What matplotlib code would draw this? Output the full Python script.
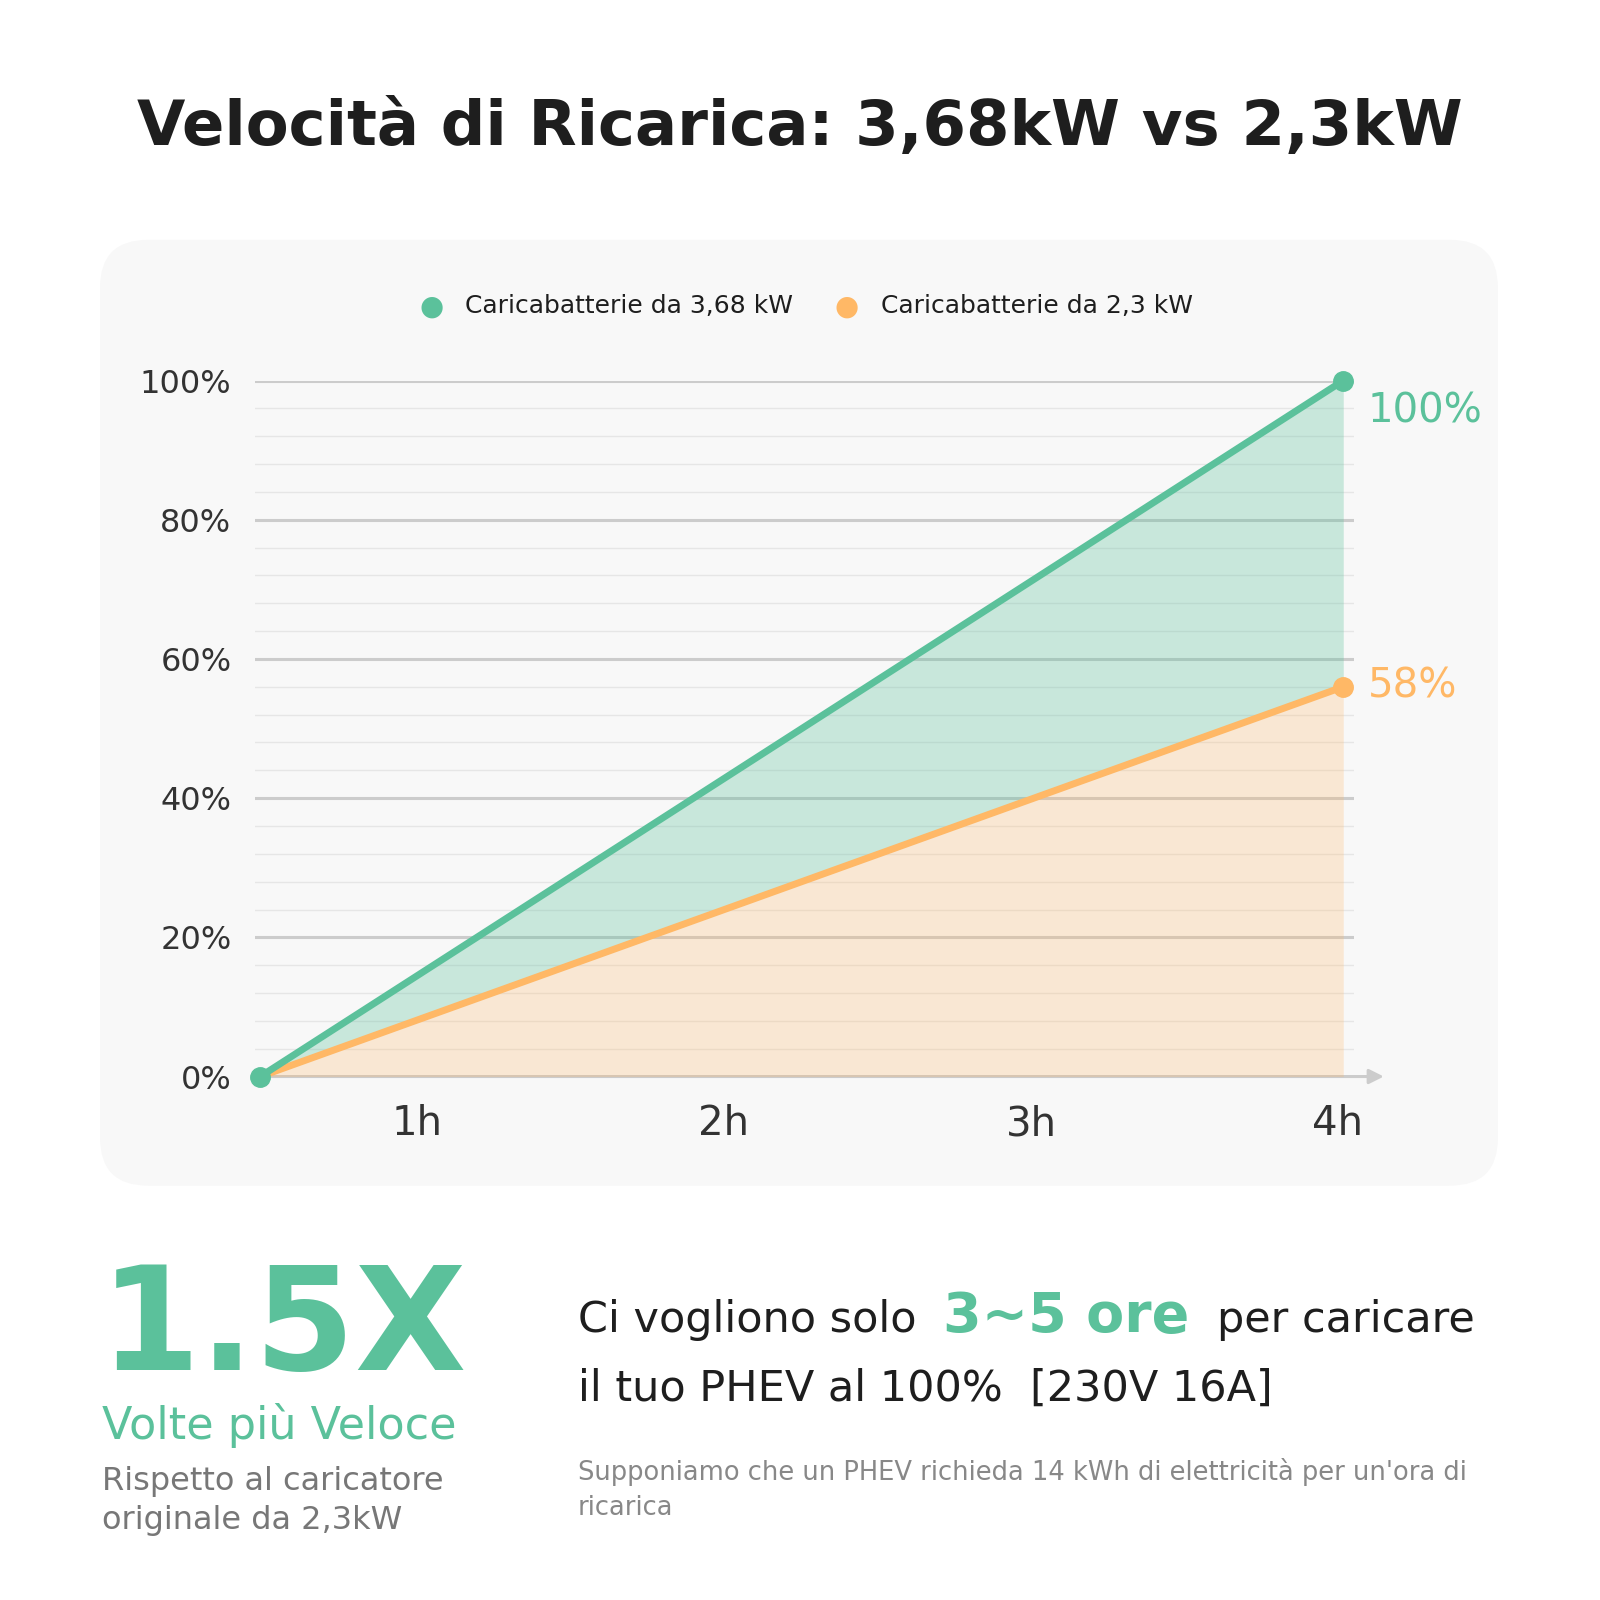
import matplotlib

matplotlib.use("Agg")

import matplotlib.pyplot as plt
from matplotlib.patches import FancyBboxPatch

plt.rcParams["font.family"] = ["DejaVu Sans"]

HOURS = [0, 4]
FAST_CHARGE = [0, 100]
SLOW_CHARGE = [0, 56]
FAST_LABEL = "100%"
SLOW_LABEL = "58%"
TICK_HOURS = [0.58, 1.71, 2.85, 3.98]
TICK_LABELS = ["1h", "2h", "3h", "4h"]
Y_TICKS = [0, 20, 40, 60, 80, 100]

GREEN = "#5bc19b"
ORANGE = "#ffb866"
DARK = "#1e1e1e"
W = 1568.0


def fx(px):
    return px / W


def fy(py):
    return 1 - py / W


fig = plt.figure(figsize=(16, 16), dpi=100)
fig.patch.set_facecolor("white")

panel = FancyBboxPatch((fx(98), fy(1162)), fx(1468) - fx(98), fy(235) - fy(1162),
                       boxstyle="round,pad=0,rounding_size=0.03",
                       transform=fig.transFigure, facecolor="#f8f8f8",
                       edgecolor="none", zorder=-5)
fig.patches.append(panel)

fig.text(0.5, fy(125), "Velocità di Ricarica: 3,68kW vs 2,3kW", ha="center",
         va="center", fontsize=45, fontweight="bold", color=DARK)

ax = fig.add_axes([fx(250), fy(1055), fx(1327) - fx(250), fy(373) - fy(1055)])
ax.set_zorder(2)
ax.set_facecolor("none")
ax.set_xlim(-0.019, 4.04)
ax.set_ylim(0, 100)
for s in ax.spines.values():
    s.set_visible(False)

for v in range(4, 100, 4):
    if v % 20:
        ax.axhline(v, color="#e6e6e6", lw=1, zorder=1)
for v in Y_TICKS[1:]:
    ax.axhline(v, color="#cccccc", lw=2.2, zorder=1)
ax.annotate("", xy=(4.16, 0), xytext=(-0.019, 0), annotation_clip=False,
            arrowprops=dict(arrowstyle="-|>", color="#cccccc", lw=2.2,
                            mutation_scale=22), zorder=1)

ax.fill_between(HOURS, 0, SLOW_CHARGE, color=ORANGE, alpha=0.25, lw=0, zorder=2)
ax.fill_between(HOURS, SLOW_CHARGE, FAST_CHARGE, color=GREEN, alpha=0.3, lw=0, zorder=2)
ax.plot(HOURS, SLOW_CHARGE, color=ORANGE, lw=5, zorder=3, solid_capstyle="round")
ax.plot(HOURS, FAST_CHARGE, color=GREEN, lw=5, zorder=4, solid_capstyle="round")
ax.plot(HOURS[-1], SLOW_CHARGE[-1], "o", color=ORANGE, ms=14, zorder=5, clip_on=False)
ax.plot(HOURS, FAST_CHARGE, "o", color=GREEN, ms=14, zorder=5, clip_on=False)

ax.text(HOURS[-1] + 0.09, FAST_CHARGE[-1] - 4.5, FAST_LABEL, color=GREEN,
        fontsize=29, va="center", ha="left")
ax.text(HOURS[-1] + 0.09, SLOW_CHARGE[-1], SLOW_LABEL, color=ORANGE,
        fontsize=29, va="center", ha="left")

ax.set_yticks(Y_TICKS, labels=[f"{v}%" for v in Y_TICKS])
ax.set_xticks(TICK_HOURS, labels=TICK_LABELS)
ax.tick_params(axis="y", length=0, pad=17, labelsize=23, labelcolor="#333333")
ax.tick_params(axis="x", length=0, pad=20, labelsize=29, labelcolor="#333333")

# legend
fig.text(fx(423), fy(300), "●", color=GREEN, fontsize=20, ha="center", va="center")
fig.text(fx(456), fy(300), "Caricabatterie da 3,68 kW", color=DARK, fontsize=18, va="center")
fig.text(fx(830), fy(300), "●", color=ORANGE, fontsize=20, ha="center", va="center")
fig.text(fx(863), fy(300), "Caricabatterie da 2,3 kW", color=DARK, fontsize=18, va="center")

# bottom left block
fig.text(fx(98), fy(1343), "1.5X", color=GREEN, fontsize=104, fontweight="bold",
         va="baseline", ha="left")
fig.text(fx(100), fy(1410), "Volte più Veloce", color=GREEN, fontsize=32, va="baseline")
fig.text(fx(100), fy(1460), "Rispetto al caricatore", color="#777777", fontsize=23,
         va="baseline")
fig.text(fx(100), fy(1498), "originale da 2,3kW", color="#777777", fontsize=23,
         va="baseline")

# bottom right block
fig.canvas.draw()
renderer = fig.canvas.get_renderer()
x = fx(566)
for txt, col, size, weight in [("Ci vogliono solo", DARK, 31, "normal"),
                               ("3~5 ore", GREEN, 40, "bold"),
                               ("per caricare", DARK, 31, "normal")]:
    t = fig.text(x, fy(1305), txt, color=col, fontsize=size, fontweight=weight,
                 va="baseline")
    bb = t.get_window_extent(renderer)
    x = bb.x1 / fig.bbox.width + 0.017
fig.text(fx(566), fy(1373), "il tuo PHEV al 100%  [230V 16A]", color=DARK,
         fontsize=31, va="baseline")
fig.text(fx(566), fy(1450), "Supponiamo che un PHEV richieda 14 kWh di elettricità per un'ora di",
         color="#888888", fontsize=18.5, va="baseline")
fig.text(fx(566), fy(1485), "ricarica", color="#888888", fontsize=18.5, va="baseline")

fig.savefig("out.png", dpi=100, facecolor="white")
